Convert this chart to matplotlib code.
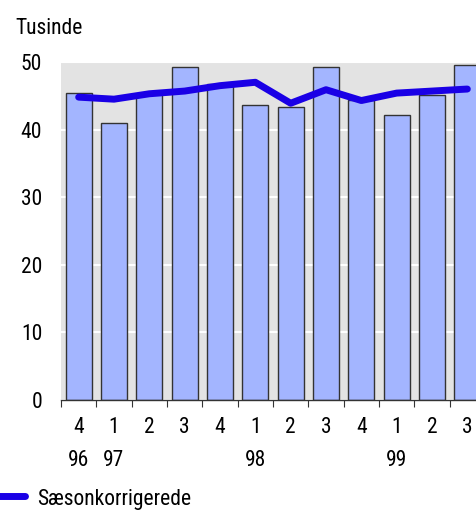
import matplotlib
matplotlib.use("Agg")
import matplotlib.pyplot as plt
import numpy as np
import logging
logging.getLogger('matplotlib.font_manager').setLevel(logging.ERROR)

plt.rcParams['font.family'] = ['Liberation Sans Narrow', 'Arial Narrow', 'Roboto Condensed',
                               'Archivo Narrow', 'PT Sans Narrow', 'Liberation Sans', 'DejaVu Sans']

quarters = ["4", "1", "2", "3", "4", "1", "2", "3", "4", "1", "2", "3"]
years = ["96", "97", "", "", "", "98", "", "", "", "99", "", ""]
actual = [45.4, 41.0, 45.2, 49.3, 46.8, 43.6, 43.3, 49.3, 44.4, 42.1, 45.1, 49.5]
seasonal = [44.8, 44.5, 45.3, 45.7, 46.5, 47.0, 43.9, 45.9, 44.3, 45.4, 45.7, 46.0]
yticks = [0, 10, 20, 30, 40, 50]

FS = 15.5
W, H = 476, 511
fig = plt.figure(figsize=(W / 100, H / 100), dpi=100)
left, right, top, bottom = 61, 485, 62, 400
ax = fig.add_axes([left / W, 1 - bottom / H, (right - left) / W, (bottom - top) / H])
ax.set_facecolor('#e3e3e3')

x = np.arange(len(actual))
ax.bar(x, actual, width=0.74, color='#a3b5ff', edgecolor='#333333', linewidth=1.0, zorder=2)
ax.plot(x, seasonal, color='#1a00e6', linewidth=5, solid_capstyle='round', zorder=3,
        label='Sæsonkorrigerede')

ax.set_xlim(-0.5, len(actual) - 0.5)
ax.set_ylim(0, 50)
ax.set_yticks(yticks)
ax.yaxis.grid(True, color='white', linewidth=1.5, zorder=1)
ax.set_axisbelow(True)
ax.tick_params(axis='y', length=0, labelsize=FS, pad=13.5)
for s in ['top', 'right', 'left']:
    ax.spines[s].set_visible(False)
ax.spines['bottom'].set_color('#333333')
ax.spines['bottom'].set_linewidth(1.0)

ax.set_xticks(np.arange(-0.5, len(actual), 1.0))
ax.set_xticklabels([])
ax.tick_params(axis='x', length=5, direction='out', color='#333333')

for i, (q, yr) in enumerate(zip(quarters, years)):
    ax.text(i, -4.1, q, ha='center', va='center', fontsize=FS, transform=ax.transData, clip_on=False)
    if yr:
        ax.text(i, -8.9, yr, ha='center', va='center', fontsize=FS, transform=ax.transData, clip_on=False)

fig.text(15 / W, 1 - 28 / H, 'Tusinde', ha='left', va='center', fontsize=FS)
fig.text(22 / W, 1 - (-11) / H, 'y', ha='left', va='center', fontsize=FS)

# legend
fig.lines.append(plt.Line2D([-5 / W, 25 / W], [1 - 496 / H, 1 - 496 / H], color='#1a00e6',
                            linewidth=5, solid_capstyle='round', transform=fig.transFigure))
fig.text(37 / W, 1 - 500 / H, 'Sæsonkorrigerede', ha='left', va='center', fontsize=FS)

fig.savefig('out.png', dpi=100)
